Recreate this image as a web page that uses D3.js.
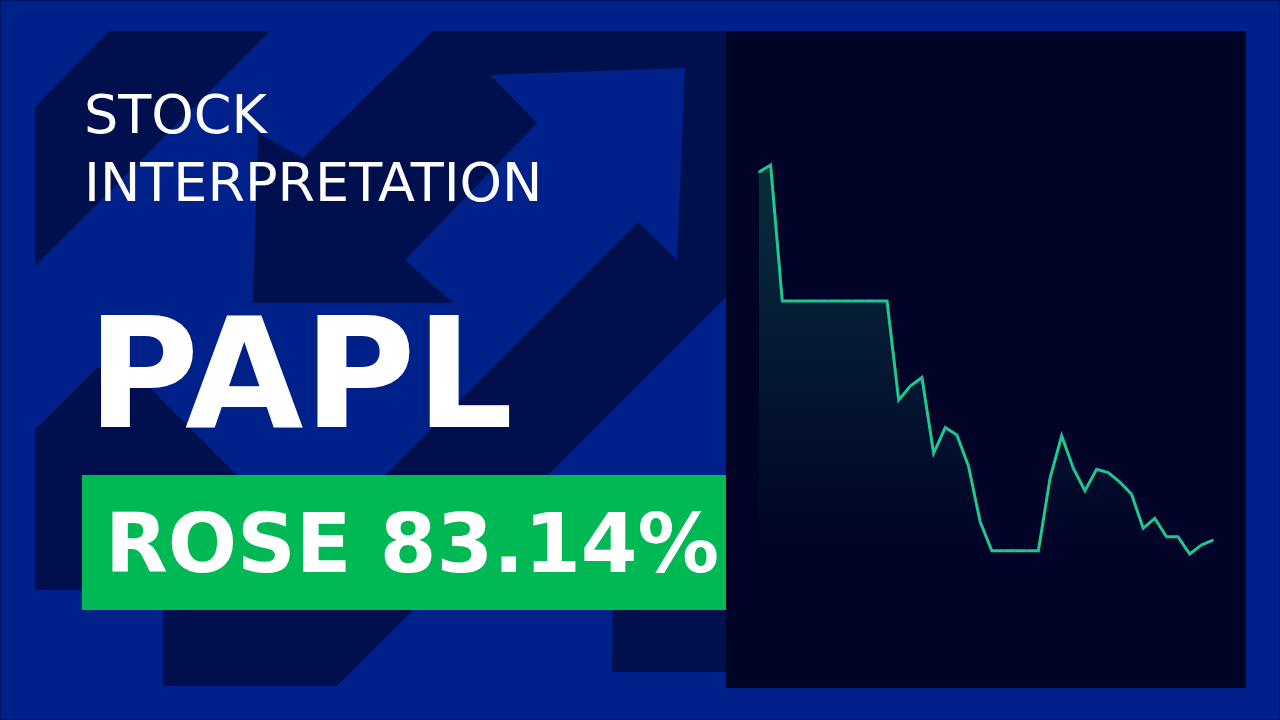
<!DOCTYPE html>
<html>
<head>
<meta charset="utf-8">
<script src="https://cdn.jsdelivr.net/npm/d3@7"></script>
<style>
  html, body { margin: 0; padding: 0; background: #00208a; }
  svg { display: block; }
</style>
</head>
<body>
<script>
// closing prices, oldest on the left
const prices = [
  23.79, 23.99, 20.18, 20.18, 20.18, 20.18, 20.18, 20.18, 20.18, 20.18,
  20.18, 20.18, 17.41, 17.80, 18.04, 15.92, 16.64, 16.43, 15.56, 14.00,
  13.19, 13.19, 13.19, 13.19, 13.19, 15.22, 16.41, 15.50, 14.87, 15.47,
  15.38, 15.11, 14.78, 13.82, 14.10, 13.58, 13.58, 13.10, 13.35, 13.49
]
const titleLines = ['STOCK', 'INTERPRETATION']
const ticker = 'PAPL'
const changePct = 83.14

let width = 1280
let height = 720

const svg = d3.select('body')
  .append('svg')
  .attr('width', width)
  .attr('height', height)

// background
svg.append('rect')
  .attr('width', width)
  .attr('height', height)
  .style('fill', '#00208a')

const dark = '#00104f'
const bg = svg.append('g').attr('class', 'bg-arrows')
const shapes = [
  [[35, 107], [109, 31], [270, 31], [35, 266]],
  [[253, 303], [258, 133], [303, 158], [433, 31], [726, 31], [726, 297], [337, 686],
   [163, 686], [163, 560], [300, 560], [638, 222], [677, 260], [685, 68], [490, 75],
   [537, 123], [405, 260], [453, 303]],
  [[35, 430], [97, 368], [130, 368], [240, 478], [240, 590], [35, 590]],
  [[613, 560], [726, 560], [726, 672], [612, 672]]
]
bg.selectAll('polygon')
  .data(shapes)
  .join('polygon')
  .attr('points', d => d.map(p => p.join(',')).join(' '))
  .style('fill', dark)

// frame
svg.append('rect')
  .attr('x', 0.5).attr('y', 0.5)
  .attr('width', width - 1).attr('height', height - 1)
  .style('fill', 'none')
  .style('stroke', '#001563')
  .style('stroke-width', 1)

// chart panel
const panel = { x: 726, y: 31, w: 520, h: 657 }
svg.append('rect')
  .attr('x', panel.x).attr('y', panel.y)
  .attr('width', panel.w).attr('height', panel.h)
  .style('fill', '#010327')

const x = d3.scaleLinear()
  .domain([0, prices.length - 1])
  .range([759, 1213])

const y = d3.scaleLinear()
  .domain(d3.extent(prices))
  .range([554, 165])

const defs = svg.append('defs')
const grad = defs.append('linearGradient')
  .attr('id', 'fade')
  .attr('x1', 0).attr('y1', 0).attr('x2', 0).attr('y2', 1)
grad.append('stop').attr('offset', '0%').attr('stop-color', '#1ec98c').attr('stop-opacity', 0.22)
grad.append('stop').attr('offset', '55%').attr('stop-color', '#1ec98c').attr('stop-opacity', 0.1)
grad.append('stop').attr('offset', '100%').attr('stop-color', '#1ec98c').attr('stop-opacity', 0)

const area = d3.area()
  .x((d, i) => x(i))
  .y0(y.range()[0])
  .y1(d => y(d))

const line = d3.line()
  .x((d, i) => x(i))
  .y(d => y(d))

svg.append('path')
  .datum(prices)
  .attr('d', area)
  .style('fill', 'url(#fade)')

svg.append('path')
  .datum(prices)
  .attr('d', line)
  .style('fill', 'none')
  .style('stroke', '#1ec98c')
  .style('stroke-width', 3)
  .style('stroke-linejoin', 'miter')

svg.append('g')
  .selectAll('circle')
  .data(prices)
  .join('circle')
  .attr('cx', (d, i) => x(i))
  .attr('cy', d => y(d))
  .attr('r', 1.3)
  .style('fill', '#3b8fdc')
  .style('opacity', 0.6)

// texts
svg.selectAll('text.title')
  .data(titleLines)
  .join('text')
  .attr('class', 'title')
  .attr('x', 84)
  .attr('y', (d, i) => 133 + i * 68)
  .attr('font-family', 'DejaVu Sans')
  .attr('font-size', 54)
  .style('fill', '#ffffff')
  .text(d => d)

svg.append('text')
  .attr('x', 87)
  .attr('y', 427)
  .attr('font-family', 'DejaVu Sans')
  .attr('font-weight', 'bold')
  .attr('font-size', 153)
  .style('fill', '#ffffff')
  .text(ticker)

svg.append('rect')
  .attr('x', 82).attr('y', 475)
  .attr('width', 644).attr('height', 135)
  .style('fill', '#00b955')

svg.append('text')
  .attr('x', 105)
  .attr('y', 572)
  .attr('font-family', 'DejaVu Sans')
  .attr('font-weight', 'bold')
  .attr('font-size', 81.5)
  .style('fill', '#ffffff')
  .text(`ROSE ${changePct.toFixed(2)}%`)
</script>
</body>
</html>
